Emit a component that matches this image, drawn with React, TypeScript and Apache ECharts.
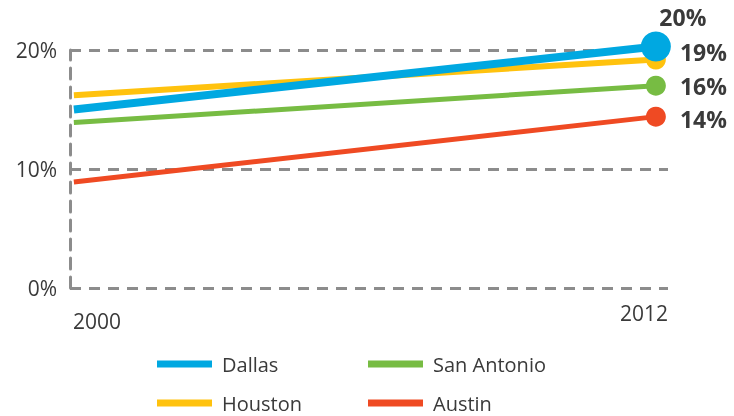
import React, { useEffect, useRef } from "react";
import * as echarts from "echarts";

const years = [2000, 2012];
const xLabels = ["2000", "2012"];
const dallas = [15.0, 20.3];
const houston = [16.2, 19.2];
const sanAntonio = [13.9, 17.0];
const austin = [8.9, 14.4];
const endLabels = { Dallas: "20%", Houston: "19%", "San Antonio": "16%", Austin: "14%" };

const FONT = "'Open Sans', Lato, sans-serif";
const TEXT = "#3a3a3a";
const GRID = "#8c8c8c";

export default function App() {
  const ref = useRef<HTMLDivElement>(null);
  useEffect(() => {
    if (!ref.current) return;
    const chart = echarts.init(ref.current, null, { renderer: "svg" });
    const mk = (
      name: string,
      vals: number[],
      color: string,
      width: number,
      size: number,
      label: any
    ) => ({
      name,
      type: "line",
      color,
      clip: false,
      lineStyle: { width, color },
      itemStyle: { color },
      symbol: "circle",
      showSymbol: true,
      symbolSize: (_v: any, p: any) => (p.dataIndex === vals.length - 1 ? size : 0),
      data: vals.map((v, i) => ({
        value: [years[i], v],
        label:
          i === vals.length - 1
            ? {
                show: true,
                formatter: (endLabels as any)[name],
                fontFamily: FONT,
                fontWeight: "bold",
                fontSize: 23,
                color: TEXT,
                ...label,
              }
            : { show: false },
      })),
      z: 3,
    });
    const leg = (name: string, left: number, top: number) => ({
      data: [name],
      left,
      top,
      padding: 0,
      icon: "rect",
      itemWidth: 55,
      itemHeight: 7,
      textStyle: { fontFamily: FONT, fontSize: 20, lineHeight: 22, color: TEXT, padding: [0, 0, 0, 5] },
    });
    chart.setOption({
      animation: false,
      grid: { left: 70, right: 66, top: 50, bottom: 128 },
      xAxis: {
        type: "value",
        min: 1999.92,
        max: 2012.25,
        axisLine: { show: false },
        axisTick: { show: false },
        axisLabel: { show: false },
        splitLine: { show: false },
      },
      yAxis: {
        type: "value",
        min: 0,
        max: 20,
        interval: 10,
        axisLine: { show: true, lineStyle: { color: GRID, width: 3, type: [11, 8] } },
        axisTick: { show: false },
        axisLabel: {
          formatter: "{value}%",
          fontFamily: FONT,
          fontSize: 21,
          color: TEXT,
          margin: 13,
        },
        splitLine: { show: true, lineStyle: { color: GRID, width: 3, type: [11, 8] } },
      },
      legend: [
        leg("Dallas", 157, 353),
        leg("San Antonio", 368, 353),
        leg("Houston", 157, 392),
        leg("Austin", 368, 392),
      ],
      graphic: [
        {
          type: "text",
          left: 73,
          top: 310,
          style: { text: xLabels[0], font: `21px ${FONT}`, fill: TEXT },
        },
        {
          type: "text",
          right: 66,
          top: 302,
          style: { text: xLabels[1], font: `21px ${FONT}`, fill: TEXT },
        },
      ],
      series: [
        mk("Austin", austin, "#ef4a23", 5, 20, { position: "right", distance: 14, offset: [0, 2] }),
        mk("San Antonio", sanAntonio, "#77bc43", 5, 20, { position: "right", distance: 14 }),
        mk("Houston", houston, "#ffc20e", 6, 20, { position: "right", distance: 14, offset: [0, -8] }),
        mk("Dallas", dallas, "#00a8e1", 8, 30, { position: "top", distance: 3, offset: [27, 0] }),
      ],
    });
    return () => chart.dispose();
  }, []);
  return <div ref={ref} style={{ position: "fixed", left: 0, top: 0, width: 734, height: 416 }} />;
}
